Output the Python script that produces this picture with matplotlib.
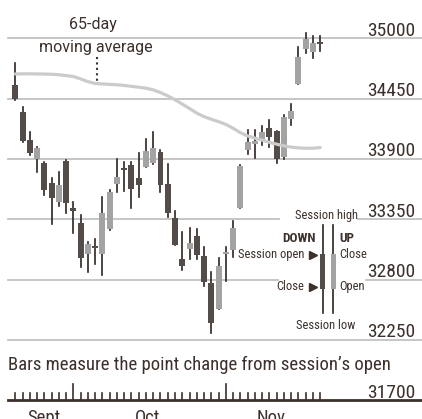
import matplotlib
matplotlib.use("Agg")
import matplotlib.pyplot as plt

# daily sessions, Sep 20 - Nov 17 (index = trading day)
opens = [34574, 34325, 34073, 33900, 33861, 33678, 33511, 33882, 33456, 33314,
         33031, 33110, 33034, 33259, 33672, 33815, 33845, 33730, 33830, 33861,
         33961, 33669, 33359, 32986, 33079, 33198, 33016, 32772, 32530, 33031,
         33070, 33450, 33982, 34040, 34073, 34182, 34158, 33921, 34262, 34581,
         34900, 34878, 34962]
highs = [34772, 34371, 34149, 34012, 33875, 33724, 33779, 33888, 33505, 33389,
         33146, 33171, 33551, 33620, 33897, 33875, 33875, 33952, 34082, 34143,
         33982, 33852, 33426, 33232, 33268, 33262, 33100, 32873, 32995, 33095,
         33335, 33845, 34164, 34164, 34201, 34255, 34158, 34301, 34401, 34923,
         35046, 35021, 35021]
lows = [34440, 34057, 33936, 33779, 33572, 33305, 33474, 33405, 33223, 32913,
        32873, 32940, 32843, 33250, 33602, 33611, 33450, 33551, 33830, 33852,
        33602, 33368, 33116, 32888, 32986, 32988, 32742, 32317, 32530, 32788,
        33009, 33450, 33945, 33909, 34027, 34006, 33861, 33897, 34210, 34581,
        34869, 34818, 34887]
closes = [34444, 34064, 33952, 33997, 33617, 33547, 33663, 33499, 33429, 33000,
          33122, 33091, 33405, 33602, 33733, 33800, 33626, 33663, 33976, 33997,
          33663, 33410, 33116, 32924, 33131, 33025, 32782, 32402, 32924, 33049,
          33268, 33836, 34057, 34060, 34149, 34103, 33897, 34285, 34337, 34827,
          34991, 34954, 34950]
ma65 = [34675, 34676, 34676, 34675, 34674, 34672, 34668, 34660, 34652, 34630,
        34605, 34588, 34584, 34580, 34576, 34570, 34562, 34554, 34545, 34530,
        34505, 34475, 34440, 34400, 34360, 34318, 34285, 34262, 34240, 34215,
        34180, 34140, 34110, 34090, 34072, 34052, 34035, 34020, 34008, 34001,
        33998, 33998, 34004]

grid_levels = [35000, 34450, 33900, 33350, 32800, 32250]
base_level = 31700
month_labels = ["Sept", "Oct", "Nov"]
month_label_pos = [3.9, 18.2, 35.2]
month_starts = [8, 29]

ink = "#3b302b"
wick_c = "#2e2420"
dark = "#534c49"
light = "#a3a3a3"
grid_c = "#c2c2c2"
ma_c = "#cbcbcb"

narrow = ["Roboto Condensed", "Liberation Sans Narrow", "DejaVu Sans"]
regular = ["Roboto", "DejaVu Sans"]

fig = plt.figure(figsize=(4.22, 4.19), dpi=100)
ax = fig.add_axes([0, 0, 1, 1])
ax.set_xlim(-2.107, 56.02)
ax.set_ylim(31530, 35349)
ax.axis("off")

# grid lines, two of them broken around the key
for lev in grid_levels:
    if lev == 33350:
        segs = [(-1, 36.3), (47.2, 56.1)]
    elif lev == 32800:
        segs = [(-1, 36.2), (48.3, 56.1)]
    else:
        segs = [(-1, 56.1)]
    for a, b in segs:
        ax.plot([a, b], [lev, lev], color=grid_c, lw=1.3, zorder=1)
    ax.text(55.06, lev + 25, f"{lev}", ha="right", va="baseline",
            fontsize=14, color=ink, family=narrow)

# base line + day ticks
ax.plot([-1, 56.1], [base_level, base_level], color=ink, lw=2, zorder=3)
ax.text(55.06, base_level + 25, f"{base_level}", ha="right", va="baseline",
        fontsize=14, color=ink, family=narrow)
for i in range(len(closes)):
    h = 150 if i in month_starts else 70
    ax.plot([i, i], [base_level, base_level + h], color=ink, lw=1.2, zorder=3)
for lab, p in zip(month_labels, month_label_pos):
    ax.text(p, 31493, lab, ha="center", va="baseline", fontsize=13.5,
            color=ink, family=narrow)

# candles
for i, (o, h, l, c) in enumerate(zip(opens, highs, lows, closes)):
    ax.plot([i, i], [l, h], color=wick_c, lw=1.2, zorder=2)
    col = light if c >= o else dark
    lo, hi = min(o, c), max(o, c)
    if hi - lo < 16:
        mid = (hi + lo) / 2
        lo, hi = mid - 8, mid + 8
    ax.bar(i, hi - lo, bottom=lo, width=0.82, color=col, zorder=3)

# moving average
ax.plot(range(len(ma65)), ma65, color=ma_c, lw=2.3, zorder=4,
        solid_capstyle="round")
ax.text(10.7, 35082, "65-day", ha="center", va="baseline", fontsize=11.5,
        color=ink, family=regular)
ax.text(11.1, 34871, "moving average", ha="center", va="baseline",
        fontsize=11.5, color=ink, family=regular)
ax.plot([11.2, 11.2], [34830, 34605], color=ink, lw=1.5,
        linestyle=(0, (1, 1.6)), zorder=4)

ax.text(-1.0, 31977, "Bars measure the point change from session\u2019s open",
        ha="left", va="baseline", fontsize=13.5, color=ink, family=narrow)

# key
kd, ku = 42.34, 43.8
ax.plot([kd, kd], [32493, 33297], color=wick_c, lw=1.2, zorder=2)
ax.plot([ku, ku], [32493, 33297], color=wick_c, lw=1.2, zorder=2)
ax.bar(kd, 33031 - 32712, bottom=32712, width=0.7, color=dark, zorder=3)
ax.bar(ku, 33031 - 32712, bottom=32712, width=0.7, color=light, zorder=3)
ax.text(42.8, 33382, "Session high", ha="center", va="center", fontsize=9,
        color=ink, family=narrow)
ax.text(42.8, 32378, "Session low", ha="center", va="center", fontsize=9,
        color=ink, family=narrow)
ax.text(41.4, 33171, "DOWN", ha="right", va="center", fontsize=9.5,
        weight="bold", color=ink, family=narrow)
ax.text(44.6, 33171, "UP", ha="left", va="center", fontsize=9.5,
        weight="bold", color=ink, family=narrow)
ax.text(39.75, 33027, "Session open", ha="right", va="center", fontsize=9,
        color=ink, family=narrow)
ax.text(39.75, 32735, "Close", ha="right", va="center", fontsize=9,
        color=ink, family=narrow)
ax.plot([41.0, 41.0], [33027, 32735], ls="none", marker=">", ms=6,
        color=ink, zorder=5)
ax.text(44.6, 33027, "Close", ha="left", va="center", fontsize=9,
        color=ink, family=narrow)
ax.text(44.6, 32735, "Open", ha="left", va="center", fontsize=9,
        color=ink, family=narrow)

fig.savefig("out.png", dpi=100)
